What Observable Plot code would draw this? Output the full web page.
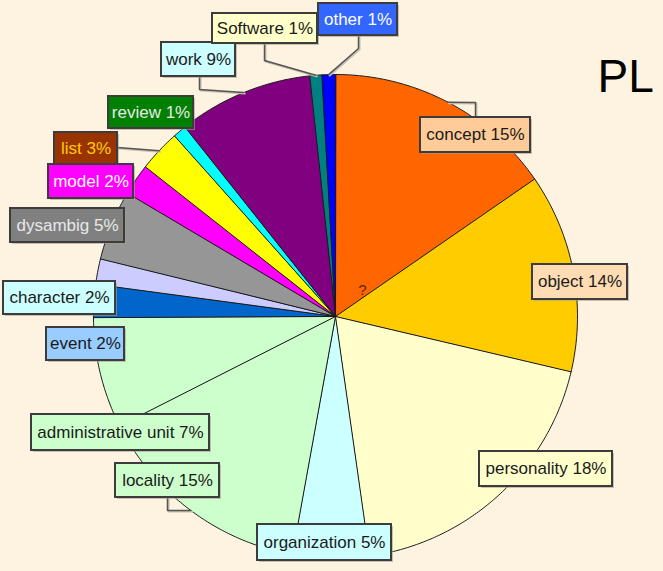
<!DOCTYPE html>
<html>
<head>
<meta charset="utf-8">
<script src="https://cdn.jsdelivr.net/npm/d3@7"></script>
<script src="https://cdn.jsdelivr.net/npm/@observablehq/plot@0.6"></script>
<style>
  html, body { margin: 0; padding: 0; background: #fdf3e0; }
  #chart { width: 663px; height: 571px; }
</style>
</head>
<body>
<div id="chart"></div>
<script>
// ---- data (clockwise from 12 o'clock) ----
const categories = ["concept", "object", "personality", "organization", "locality",
  "administrative unit", "event", "character", "dysambig", "model", "list",
  "review", "work", "Software", "other"];
// slice sizes (share of the full circle, %)
const shares = [15.4, 13.3, 19.1, 5.1, 14.7, 7.4, 2.2, 1.7, 4.7, 2.1, 2.8, 0.9, 9.0, 0.8, 0.9];
// percentages printed on the labels
const percents = [15, 14, 18, 5, 15, 7, 2, 2, 5, 2, 3, 1, 9, 1, 1];
const title = "PL";

// ---- styles ----
const sliceColors = ["#ff6600", "#ffcc00", "#ffffcc", "#ccffff", "#ccffcc", "#ccffcc",
  "#0066cc", "#ccccff", "#969696", "#ff00ff", "#ffff00", "#00ffff", "#800080", "#008080", "#0000ff"];
const boxColors = ["#ffcc99", "#ffdcb4", "#ffffcc", "#ccffff", "#ccffcc", "#ccffcc",
  "#99ccff", "#ccffff", "#808080", "#ff00ff", "#993300", "#008000", "#ccffff", "#ffffcc", "#3366ff"];
const textColors = ["#1a1a1a", "#1a1a1a", "#1a1a1a", "#1a1a1a", "#1a1a1a", "#1a1a1a",
  "#1a1a1a", "#1a1a1a", "#e8e8e8", "#ffffff", "#ffcc00", "#e8e8e8", "#1a1a1a", "#1a1a1a", "#ffffff"];

// ---- layout (pixel space) ----
const W = 663, H = 571;
const CX = 335, CY = 316, R = 242;
// label boxes [x1, y1, x2, y2]
const boxes = [
  [420, 117, 530, 152], [532, 264, 627, 299], [479, 451, 612, 486], [257, 524, 391, 560],
  [115, 463, 219, 497], [31, 414, 209, 450], [46, 327, 124, 360], [3, 281, 115, 314],
  [10, 208, 124, 242], [48, 164, 133, 198], [54, 132, 117, 164], [108, 96, 193, 128],
  [161, 42, 235, 76], [212, 13, 317, 43], [318, 3, 397, 35]
];
// leader lines: [category index, anchor x, anchor y, elbow y]
const leaders = [
  [0, 475, 117, 102], [4, 167, 497, 510], [10, 117, 147, 147],
  [12, 199, 76, 89], [13, 264, 43, 60], [14, 358, 35, 48]
];

// ---- geometry from data ----
const pie = d3.pie().sort(null).value(d => d)(shares);
const pt = (a, r) => ({x: CX + r * Math.sin(a), y: CY - r * Math.cos(a)});

const slices = pie.map((p, i) => {
  const pts = [{x: CX, y: CY}];
  const n = Math.max(2, Math.ceil((p.endAngle - p.startAngle) / 0.01));
  for (let k = 0; k <= n; k++) {
    pts.push(pt(p.startAngle + (p.endAngle - p.startAngle) * k / n, R));
  }
  return {pts, color: sliceColors[i]};
});

const labels = categories.map((c, i) => ({
  text: `${c} ${percents[i]}%`,
  x1: boxes[i][0], y1: boxes[i][1], x2: boxes[i][2], y2: boxes[i][3],
  fill: boxColors[i], color: textColors[i]
}));

const leaderLines = leaders.map(([i, ax, ay, ey]) => {
  const mid = (pie[i].startAngle + pie[i].endAngle) / 2;
  return [{x: ax, y: ay}, {x: ax, y: ey}, pt(mid, R)];
});

const marks = [];
for (const s of slices) {
  marks.push(Plot.line(s.pts, {x: "x", y: "y", fill: s.color, stroke: "#1a1a1a",
    strokeWidth: 1, curve: "linear-closed", strokeLinejoin: "round"}));
}
for (const l of leaderLines) {
  marks.push(Plot.line(l, {x: "x", y: "y", stroke: "#c8c0b0", strokeWidth: 2, dx: 1, dy: 1}));
  marks.push(Plot.line(l, {x: "x", y: "y", stroke: "#555555", strokeWidth: 1.5}));
}
marks.push(
  Plot.rect(labels, {x1: "x1", y1: "y1", x2: "x2", y2: "y2", fill: "#a89e8c", fillOpacity: 0.6, dx: 2, dy: 2}),
  Plot.rect(labels, {x1: "x1", y1: "y1", x2: "x2", y2: "y2", fill: "fill", stroke: "#3c3c3c", strokeWidth: 2}),
  Plot.text(labels, {x: d => (d.x1 + d.x2) / 2, y: d => (d.y1 + d.y2) / 2, text: "text",
    fill: "color", fontSize: 17, fontFamily: "Liberation Sans, Arial, sans-serif"}),
  Plot.text(["?"], {x: () => 362, y: () => 290, text: d => d, fill: "#5a2a00", fontSize: 15,
    fontFamily: "Liberation Sans, Arial, sans-serif"}),
  Plot.text([title], {x: () => 597, y: () => 77, text: d => d, textAnchor: "start", fill: "#000000",
    fontSize: 46, fontFamily: "Liberation Sans, Arial, sans-serif"})
);

const chart = Plot.plot({
  width: W, height: H,
  margin: 0,
  x: {domain: [0, W], range: [0, W], axis: null},
  y: {domain: [0, H], range: [0, H], axis: null},
  color: {type: "identity"},
  style: {background: "#fdf3e0", overflow: "visible"},
  marks
});
document.getElementById("chart").appendChild(chart);
</script>
</body>
</html>
